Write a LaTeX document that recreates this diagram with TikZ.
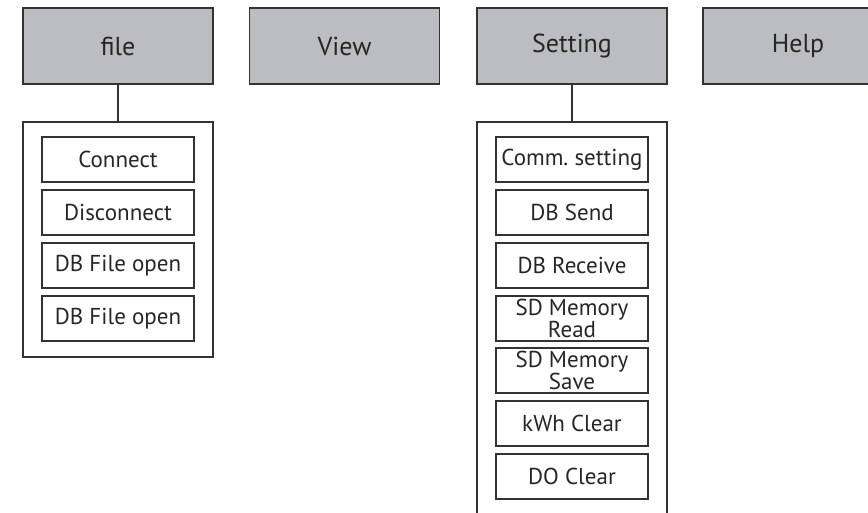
\documentclass[tikz,border=0pt]{standalone}
\usepackage{fontspec}
\setmainfont{PT Sans}
\usepackage{tikz}
\usetikzlibrary{positioning}

\definecolor{menugray}{HTML}{BCBDC0}
\definecolor{edgegray}{HTML}{333333}

\tikzset{
    topbox/.style={draw=edgegray, fill=menugray, line width=1.6pt, outer sep=0pt,
        minimum width=190pt, minimum height=76pt, inner sep=0pt,
        font=\fontsize{26}{28}\selectfont, text=black!85},
    panel/.style={draw=edgegray, line width=1.3pt, outer sep=0pt, inner sep=0pt,
        minimum width=190pt},
    itembox/.style={draw=edgegray, line width=1.3pt, outer sep=0pt, inner sep=0pt,
        minimum width=152pt, minimum height=45pt, align=center,
        font=\fontsize{23}{20}\selectfont, text=black!85},
}

\begin{document}
\begin{tikzpicture}[x=1pt, y=-1pt, node distance=8pt]

    % Page size of the reference
    \useasboundingbox (0,0) rectangle (868,513);
    \clip (0,0) rectangle (868,513);

    % Top menu bar
    \node[topbox] (file) at (118,46) {file};
    \node[topbox] (view) at (344.5,46) {View};
    \node[topbox] (setting) at (572,46) {Setting};
    \node[topbox] (help) at (798,46) {Help};

    % Drop-down panels
    \node[panel, minimum height=235pt] (filemenu) at (118,239.5) {};
    \node[panel, minimum height=420pt] (settingmenu) at (572,332) {};

    % Links from menu to panel
    \draw[edgegray, line width=1.6pt] (file.south) -- (filemenu.north);
    \draw[edgegray, line width=1.6pt] (setting.south) -- (settingmenu.north);

    % Items of the file menu
    \node[itembox] (connect) at (118,159.5) {Connect};
    \node[itembox, below=of connect] (disconnect) {Disconnect};
    \node[itembox, below=of disconnect] (fileopen) {DB File open};
    \node[itembox, below=of fileopen] (fileopentwo) {DB File open};

    % Items of the setting menu
    \node[itembox] (comm) at (572,159.5) {Comm.\ setting};
    \node[itembox, below=of comm] (dbsend) {DB Send};
    \node[itembox, below=of dbsend] (dbreceive) {DB Receive};
    \node[itembox, below=of dbreceive] (sdread) {SD Memory\\Read};
    \node[itembox, below=7pt of sdread] (sdsave) {SD Memory\\Save};
    \node[itembox, below=of sdsave] (kwhclear) {kWh Clear};
    \node[itembox, below=of kwhclear] (doclear) {DO Clear};
\end{tikzpicture}
\end{document}
